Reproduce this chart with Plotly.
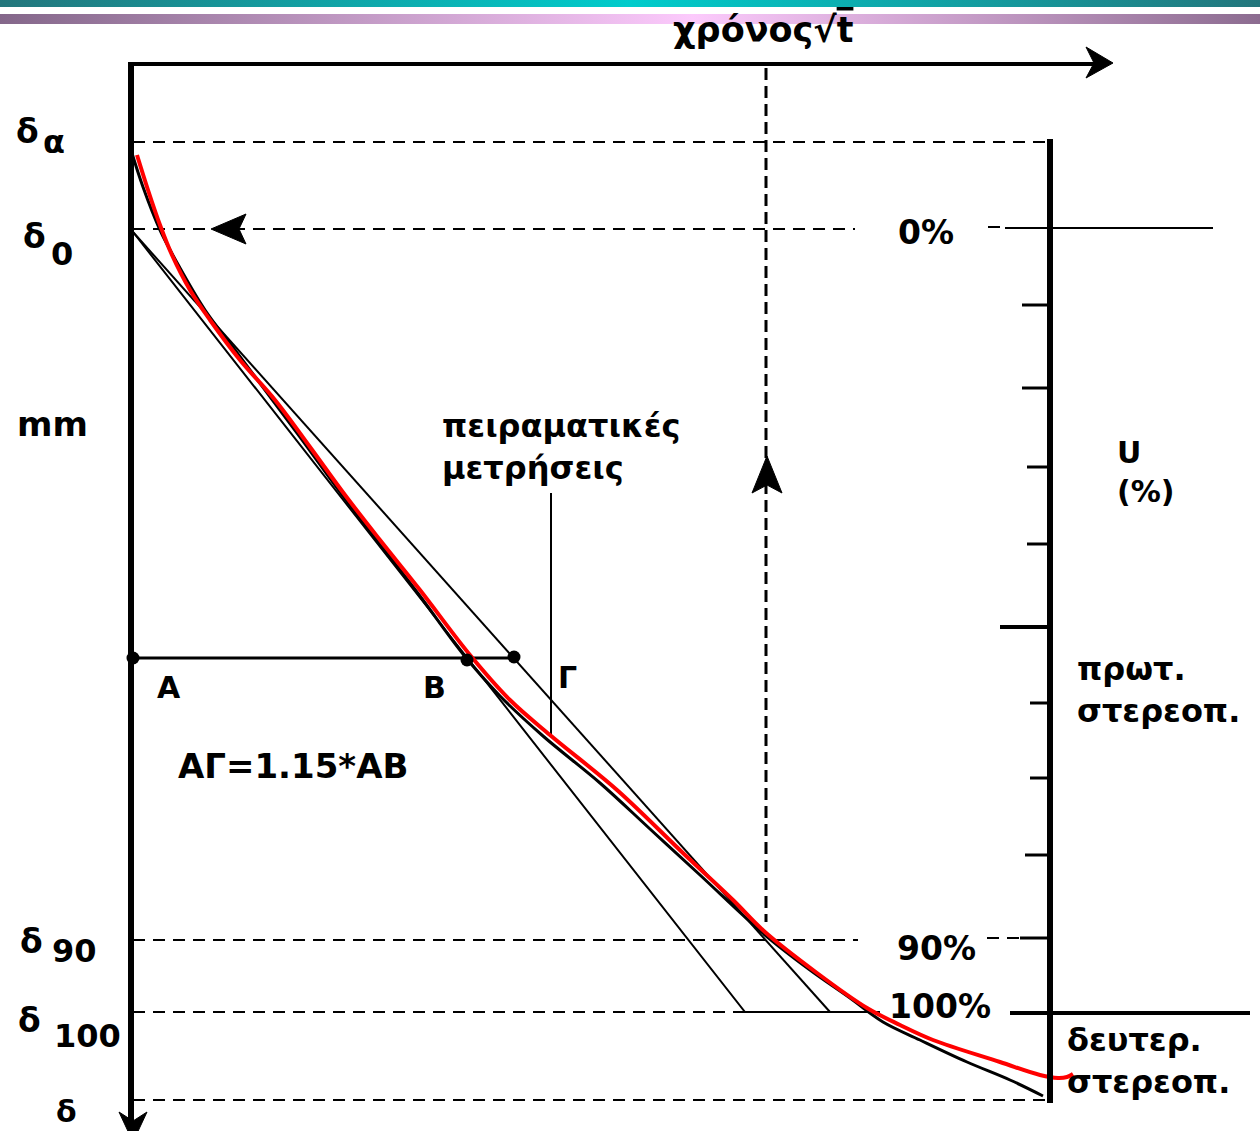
import plotly.graph_objects as go

W, H = 1260, 1131

# ---------------- data (diagram units: x = sqrt(t) scale, y = settlement delta, downward) ----
x_origin = 131
y_time_axis = 64
x_time_end = 1100
x_u_axis = 1050

# reference settlement levels (dashed guide lines)
level_y = [142, 229, 940, 1012, 1100]
level_x_end = [1050, 855, 858, 880, 1050]

# U(%) scale ticks on right axis
u_tick_y = [305, 388, 467, 544, 627, 703, 778, 855, 938]
u_tick_x0 = [1022, 1022, 1027, 1027, 1000, 1030, 1030, 1025, 1020]

# fitted (red) consolidation curve
fit_x = [137, 148, 160, 172, 190, 210, 240, 275, 310, 345, 380, 420, 470, 510, 550,
         617, 683, 733, 765, 817, 867, 900, 933, 1000, 1040, 1058, 1067, 1073]
fit_y = [155, 190, 225, 255, 290, 320, 360, 400, 447, 495, 540, 590, 655, 700, 735,
         790, 853, 900, 932, 973, 1008, 1025, 1040, 1062, 1075, 1078, 1077, 1074]

# measured curve (experimental readings)
meas_x = [131, 143, 160, 180, 205, 235, 265, 300, 340, 380, 420, 463, 500, 543, 600,
          650, 700, 765, 810, 850, 883, 920, 967, 1010, 1043]
meas_y = [150, 187, 230, 268, 310, 350, 390, 437, 492, 544, 596, 654, 696, 736, 783,
          829, 875, 935, 970, 998, 1022, 1040, 1062, 1080, 1096]

# construction lines from delta0
tangent_x = [133, 745, 880]
tangent_y = [232, 1012, 1012]
corr_x = [133, 830]
corr_y = [232, 1012]

# points A, B, Gamma
pt_names = ["A", "B", "Γ"]
pt_x = [133, 467, 514]
pt_y = [658, 660, 657]

# vertical dashed construction at t90
t90_x = 766
t90_y = [68, 922]

fig = go.Figure()

def line(xs, ys, width=2, color="black", dash=None, shape="linear"):
    fig.add_trace(go.Scatter(x=xs, y=ys, mode="lines", hoverinfo="skip",
                             line=dict(color=color, width=width, dash=dash, shape=shape)))

def poly(xs, ys, color="black"):
    fig.add_trace(go.Scatter(x=xs + [xs[0]], y=ys + [ys[0]], mode="lines", fill="toself",
                             fillcolor=color, line=dict(color=color, width=1), hoverinfo="skip"))

# header gradient bands
fig.add_trace(go.Scatter(x=[0, W, W, 0, 0], y=[0, 0, 7, 7, 0], mode="none", fill="toself",
                         hoverinfo="skip",
                         fillgradient=dict(type="horizontal",
                                           colorscale=[[0, "#23767c"], [0.5, "#00cccc"], [1, "#23767c"]])))
fig.add_trace(go.Scatter(x=[0, W, W, 0, 0], y=[14, 14, 24, 24, 14], mode="none", fill="toself",
                         hoverinfo="skip",
                         fillgradient=dict(type="horizontal",
                                           colorscale=[[0, "#84678a"], [0.55, "#fccafc"], [1, "#8c6c90"]])))

# dashed level lines
for yv, xe in zip(level_y, level_x_end):
    line([133, xe], [yv, yv], width=2, dash="12px,8px")
# right-side dashed continuations
line([988, 1000], [227, 227], width=2)
line([987, 1020], [938, 938], width=2, dash="12px,8px")

# vertical dashed line at t90
line([t90_x, t90_x], t90_y, width=3, dash="12px,6px")

# construction lines
line(tangent_x, tangent_y, width=2)
line(corr_x, corr_y, width=2)
line([pt_x[0], pt_x[2]], [658, 658], width=3)
# pointer line for label
line([551, 551], [493, 735], width=2)

# measured curve
line(meas_x, meas_y, width=3, shape="spline")
# fitted curve
line(fit_x, fit_y, width=4, color="#ff0000", shape="spline")

# axes
line([x_origin, x_origin], [62, 1125], width=6)
line([x_origin - 2, x_time_end], [y_time_axis, y_time_axis], width=4)
line([x_u_axis, x_u_axis], [139, 1103], width=6)
line([1005, 1213], [228, 228], width=2)
line([1010, 1250], [1013, 1013], width=4)
for yv, x0 in zip(u_tick_y, u_tick_x0):
    line([x0, x_u_axis], [yv, yv], width=4 if x0 == 1000 else 3)

# arrowheads
poly([1113, 1086, 1094, 1086], [63, 47, 63, 78])
poly([133, 119, 133, 147], [1142, 1112, 1121, 1112])
poly([211, 246, 239, 246], [229, 214, 229, 244])
poly([767, 752, 767, 782], [456, 493, 485, 493])

# points
fig.add_trace(go.Scatter(x=pt_x, y=pt_y, mode="markers", hoverinfo="skip",
                         marker=dict(color="black", size=13)))

# ---------------- text ----------------
ann = []

def txt(x, y, s, size=30, bold=True, xanchor="center", yanchor="middle", family="DejaVu Sans"):
    if bold:
        s = "<br>".join(f"<b>{p}</b>" for p in s.split("<br>"))
    ann.append(dict(x=x, y=y, xref="x", yref="y", text=s, align="left",
                    showarrow=False, xanchor=xanchor, yanchor=yanchor,
                    font=dict(family=family, size=size, color="black")))

txt(763, 30, "χρόνος√<span style='text-decoration:overline'>t</span>", size=35, bold=True)
txt(27, 131, "δ", 33); txt(54, 142, "α", 32)
txt(34, 236, "δ", 33); txt(62, 254, "0", 32)
txt(52, 424, "mm", 34)
txt(31, 941, "δ", 33); txt(74, 951, "90", 32)
txt(29, 1020, "δ", 33); txt(87, 1036, "100", 32)
txt(66, 1131, "δ", 30, yanchor="bottom")
txt(169, 687, "A", 30); txt(434, 687, "B", 30); txt(567, 677, "Γ", 30)
txt(293, 766, "ΑΓ=1.15*ΑΒ", 34)
txt(440, 447, "πειραματικές<br>μετρήσεις", 32, xanchor="left")
txt(926, 232, "0%", 33)
txt(936, 948, "90%", 33)
txt(940, 1006, "100%", 33)
txt(1115, 472, "U<br>(%)", 30, xanchor="left")
txt(1075, 690, "πρωτ.<br>στερεοπ.", 32, xanchor="left")
txt(1065, 1061, "δευτερ.<br>στερεοπ.", 32, xanchor="left")

fig.update_layout(
    width=W, height=H, margin=dict(l=0, r=0, t=0, b=0),
    paper_bgcolor="white", plot_bgcolor="white", showlegend=False,
    xaxis=dict(range=[0, W], visible=False, fixedrange=True),
    yaxis=dict(range=[H, 0], visible=False, fixedrange=True),
    annotations=ann,
)

fig.write_html("out.html")
